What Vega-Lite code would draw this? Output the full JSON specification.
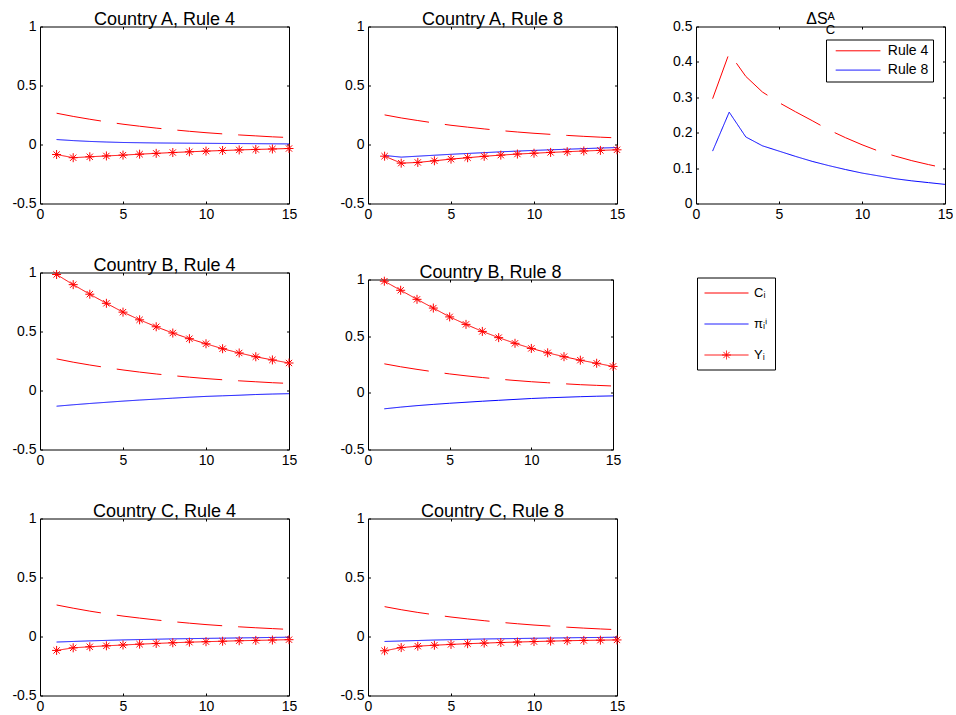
{
  "$schema": "https://vega.github.io/schema/vega-lite/v6.json",
  "background": "white",
  "padding": {"left": 11, "top": 10.5, "right": 0, "bottom": 0},
  "config": {
    "font": "Liberation Sans",
    "view": {"stroke": null},
    "axis": {"grid": false, "domainColor": "#000", "domainWidth": 1, "tickColor": "#000", "tickWidth": 1, "tickSize": -2.5, "labelColor": "#000", "labelFont": "Liberation Sans", "labelFontSize": 14, "labelFlush": false, "labelOverlap": false},
    "axisTop": {"labels": false},
    "axisRight": {"labels": false},
    "axisBottom": {"labelPadding": 6},
    "axisLeft": {"labelPadding": 6.5},
    "title": {"font": "Liberation Sans", "fontSize": 18, "fontWeight": "normal", "color": "#000", "offset": -9.5, "subtitleFont": "Liberation Sans", "subtitleFontSize": 13, "subtitleColor": "#000"}
  },
  "datasets": {
    "ctry": [
      {"p":"A4","t":1,"C":0.265,"P":0.042,"Y":-0.085},{"p":"A4","t":2,"C":0.238,"P":0.033,"Y":-0.112},{"p":"A4","t":3,"C":0.214,"P":0.026,"Y":-0.104},{"p":"A4","t":4,"C":0.192,"P":0.021,"Y":-0.097},{"p":"A4","t":5,"C":0.172,"P":0.017,"Y":-0.090},{"p":"A4","t":6,"C":0.155,"P":0.015,"Y":-0.082},{"p":"A4","t":7,"C":0.139,"P":0.013,"Y":-0.075},{"p":"A4","t":8,"C":0.125,"P":0.012,"Y":-0.068},{"p":"A4","t":9,"C":0.112,"P":0.011,"Y":-0.062},{"p":"A4","t":10,"C":0.100,"P":0.010,"Y":-0.056},{"p":"A4","t":11,"C":0.090,"P":0.009,"Y":-0.051},{"p":"A4","t":12,"C":0.081,"P":0.008,"Y":-0.046},{"p":"A4","t":13,"C":0.073,"P":0.007,"Y":-0.042},{"p":"A4","t":14,"C":0.065,"P":0.006,"Y":-0.038},{"p":"A4","t":15,"C":0.059,"P":0.005,"Y":-0.034},
      {"p":"A8","t":1,"C":0.251,"P":-0.093,"Y":-0.099},{"p":"A8","t":2,"C":0.225,"P":-0.107,"Y":-0.158},{"p":"A8","t":3,"C":0.203,"P":-0.099,"Y":-0.152},{"p":"A8","t":4,"C":0.182,"P":-0.091,"Y":-0.138},{"p":"A8","t":5,"C":0.163,"P":-0.083,"Y":-0.124},{"p":"A8","t":6,"C":0.147,"P":-0.076,"Y":-0.112},{"p":"A8","t":7,"C":0.132,"P":-0.069,"Y":-0.100},{"p":"A8","t":8,"C":0.118,"P":-0.062,"Y":-0.090},{"p":"A8","t":9,"C":0.106,"P":-0.056,"Y":-0.081},{"p":"A8","t":10,"C":0.095,"P":-0.050,"Y":-0.074},{"p":"A8","t":11,"C":0.086,"P":-0.045,"Y":-0.067},{"p":"A8","t":12,"C":0.077,"P":-0.040,"Y":-0.061},{"p":"A8","t":13,"C":0.069,"P":-0.035,"Y":-0.055},{"p":"A8","t":14,"C":0.062,"P":-0.030,"Y":-0.050},{"p":"A8","t":15,"C":0.056,"P":-0.026,"Y":-0.045},
      {"p":"B4","t":1,"C":0.268,"P":-0.133,"Y":0.983},{"p":"B4","t":2,"C":0.240,"P":-0.121,"Y":0.897},{"p":"B4","t":3,"C":0.216,"P":-0.110,"Y":0.816},{"p":"B4","t":4,"C":0.194,"P":-0.100,"Y":0.739},{"p":"B4","t":5,"C":0.174,"P":-0.090,"Y":0.664},{"p":"B4","t":6,"C":0.156,"P":-0.081,"Y":0.599},{"p":"B4","t":7,"C":0.140,"P":-0.073,"Y":0.540},{"p":"B4","t":8,"C":0.126,"P":-0.065,"Y":0.487},{"p":"B4","t":9,"C":0.113,"P":-0.057,"Y":0.439},{"p":"B4","t":10,"C":0.101,"P":-0.050,"Y":0.396},{"p":"B4","t":11,"C":0.091,"P":-0.045,"Y":0.354},{"p":"B4","t":12,"C":0.082,"P":-0.040,"Y":0.318},{"p":"B4","t":13,"C":0.074,"P":-0.034,"Y":0.286},{"p":"B4","t":14,"C":0.066,"P":-0.030,"Y":0.259},{"p":"B4","t":15,"C":0.060,"P":-0.027,"Y":0.233},
      {"p":"B8","t":1,"C":0.256,"P":-0.141,"Y":0.985},{"p":"B8","t":2,"C":0.230,"P":-0.126,"Y":0.905},{"p":"B8","t":3,"C":0.207,"P":-0.113,"Y":0.825},{"p":"B8","t":4,"C":0.186,"P":-0.102,"Y":0.748},{"p":"B8","t":5,"C":0.167,"P":-0.092,"Y":0.670},{"p":"B8","t":6,"C":0.150,"P":-0.083,"Y":0.604},{"p":"B8","t":7,"C":0.135,"P":-0.074,"Y":0.542},{"p":"B8","t":8,"C":0.121,"P":-0.066,"Y":0.487},{"p":"B8","t":9,"C":0.109,"P":-0.058,"Y":0.437},{"p":"B8","t":10,"C":0.098,"P":-0.050,"Y":0.392},{"p":"B8","t":11,"C":0.089,"P":-0.044,"Y":0.353},{"p":"B8","t":12,"C":0.080,"P":-0.039,"Y":0.319},{"p":"B8","t":13,"C":0.072,"P":-0.034,"Y":0.288},{"p":"B8","t":14,"C":0.066,"P":-0.030,"Y":0.261},{"p":"B8","t":15,"C":0.060,"P":-0.027,"Y":0.233},
      {"p":"C4","t":1,"C":0.267,"P":-0.047,"Y":-0.118},{"p":"C4","t":2,"C":0.240,"P":-0.042,"Y":-0.096},{"p":"C4","t":3,"C":0.215,"P":-0.037,"Y":-0.087},{"p":"C4","t":4,"C":0.193,"P":-0.033,"Y":-0.079},{"p":"C4","t":5,"C":0.173,"P":-0.029,"Y":-0.072},{"p":"C4","t":6,"C":0.156,"P":-0.026,"Y":-0.065},{"p":"C4","t":7,"C":0.140,"P":-0.023,"Y":-0.059},{"p":"C4","t":8,"C":0.126,"P":-0.020,"Y":-0.053},{"p":"C4","t":9,"C":0.113,"P":-0.018,"Y":-0.048},{"p":"C4","t":10,"C":0.101,"P":-0.016,"Y":-0.044},{"p":"C4","t":11,"C":0.091,"P":-0.014,"Y":-0.040},{"p":"C4","t":12,"C":0.082,"P":-0.012,"Y":-0.036},{"p":"C4","t":13,"C":0.074,"P":-0.010,"Y":-0.033},{"p":"C4","t":14,"C":0.067,"P":-0.008,"Y":-0.030},{"p":"C4","t":15,"C":0.060,"P":-0.006,"Y":-0.027},
      {"p":"C8","t":1,"C":0.253,"P":-0.042,"Y":-0.121},{"p":"C8","t":2,"C":0.227,"P":-0.038,"Y":-0.094},{"p":"C8","t":3,"C":0.204,"P":-0.034,"Y":-0.082},{"p":"C8","t":4,"C":0.184,"P":-0.030,"Y":-0.074},{"p":"C8","t":5,"C":0.165,"P":-0.027,"Y":-0.067},{"p":"C8","t":6,"C":0.149,"P":-0.024,"Y":-0.061},{"p":"C8","t":7,"C":0.134,"P":-0.021,"Y":-0.056},{"p":"C8","t":8,"C":0.120,"P":-0.019,"Y":-0.051},{"p":"C8","t":9,"C":0.108,"P":-0.017,"Y":-0.047},{"p":"C8","t":10,"C":0.097,"P":-0.015,"Y":-0.043},{"p":"C8","t":11,"C":0.088,"P":-0.013,"Y":-0.039},{"p":"C8","t":12,"C":0.079,"P":-0.011,"Y":-0.036},{"p":"C8","t":13,"C":0.071,"P":-0.009,"Y":-0.033},{"p":"C8","t":14,"C":0.064,"P":-0.008,"Y":-0.031},{"p":"C8","t":15,"C":0.058,"P":-0.006,"Y":-0.029}
    ],
    "ds": [
      {"t":1,"Rule 4":0.296,"Rule 8":0.148},{"t":2,"Rule 4":0.425,"Rule 8":0.258},{"t":3,"Rule 4":0.359,"Rule 8":0.188},{"t":4,"Rule 4":0.315,"Rule 8":0.163},{"t":5,"Rule 4":0.285,"Rule 8":0.148},{"t":6,"Rule 4":0.259,"Rule 8":0.133},{"t":7,"Rule 4":0.234,"Rule 8":0.119},{"t":8,"Rule 4":0.208,"Rule 8":0.107},{"t":9,"Rule 4":0.186,"Rule 8":0.096},{"t":10,"Rule 4":0.166,"Rule 8":0.086},{"t":11,"Rule 4":0.148,"Rule 8":0.078},{"t":12,"Rule 4":0.134,"Rule 8":0.070},{"t":13,"Rule 4":0.121,"Rule 8":0.064},{"t":14,"Rule 4":0.110,"Rule 8":0.059},{"t":15,"Rule 4":0.100,"Rule 8":0.054}
    ]
  },
  "columns": 3,
  "bounds": "flush",
  "spacing": {"row": 69, "column": 79},
  "resolve": {"scale": {"color": "independent", "strokeDash": "independent"}, "legend": {"color": "independent", "strokeDash": "independent"}},
  "concat": [
    {
      "title": {"text": "Country A, Rule 4"},
      "width": 249, "height": 177,
      "data": {"name": "ctry"},
      "transform": [{"filter": "datum.p === 'A4'"}, {"fold": ["C", "P", "Y"], "as": ["s", "v"]}],
      "layer": [
        {"mark": {"type": "line", "strokeWidth": 1},
         "encoding": {
           "x": {"field": "t", "type": "quantitative", "title": null, "scale": {"domain": [0, 15], "nice": false}, "axis": {"values": [0, 5, 10, 15]}},
           "y": {"field": "v", "type": "quantitative", "title": null, "scale": {"domain": [-0.5, 1], "nice": false}, "axis": {"values": [-0.5, 0, 0.5, 1], "labelExpr": "'' + datum.value"}},
           "color": {"field": "s", "type": "nominal", "scale": {"domain": ["C", "P", "Y"], "range": ["#ff0000", "#0000ff", "#ff0000"]}, "legend": null},
           "strokeDash": {"field": "s", "type": "nominal", "scale": {"domain": ["C", "P", "Y"], "range": [[45, 16], [1, 0], [1, 0]]}, "legend": null}
         }},
        {"transform": [{"filter": "datum.s === 'Y'"}],
         "mark": {"type": "point", "shape": "M-1,0H1M0,-1V1M-0.7,-0.7L0.7,0.7M-0.7,0.7L0.7,-0.7", "size": 81, "filled": false, "strokeWidth": 1, "color": "#ff0000", "opacity": 1},
         "encoding": {
           "x": {"field": "t", "type": "quantitative", "title": null, "axis": {"orient": "top", "values": [0, 5, 10, 15]}},
           "y": {"field": "v", "type": "quantitative", "title": null, "axis": {"orient": "right", "values": [-0.5, 0, 0.5, 1]}}
         }}
      ],
      "resolve": {"axis": {"x": "independent", "y": "independent"}}
    },
    {
      "title": {"text": "Country A, Rule 8"},
      "width": 249, "height": 177,
      "data": {"name": "ctry"},
      "transform": [{"filter": "datum.p === 'A8'"}, {"fold": ["C", "P", "Y"], "as": ["s", "v"]}],
      "layer": [
        {"mark": {"type": "line", "strokeWidth": 1},
         "encoding": {
           "x": {"field": "t", "type": "quantitative", "title": null, "scale": {"domain": [0, 15], "nice": false}, "axis": {"values": [0, 5, 10, 15]}},
           "y": {"field": "v", "type": "quantitative", "title": null, "scale": {"domain": [-0.5, 1], "nice": false}, "axis": {"values": [-0.5, 0, 0.5, 1], "labelExpr": "'' + datum.value"}},
           "color": {"field": "s", "type": "nominal", "scale": {"domain": ["C", "P", "Y"], "range": ["#ff0000", "#0000ff", "#ff0000"]}, "legend": null},
           "strokeDash": {"field": "s", "type": "nominal", "scale": {"domain": ["C", "P", "Y"], "range": [[45, 16], [1, 0], [1, 0]]}, "legend": null}
         }},
        {"transform": [{"filter": "datum.s === 'Y'"}],
         "mark": {"type": "point", "shape": "M-1,0H1M0,-1V1M-0.7,-0.7L0.7,0.7M-0.7,0.7L0.7,-0.7", "size": 81, "filled": false, "strokeWidth": 1, "color": "#ff0000", "opacity": 1},
         "encoding": {
           "x": {"field": "t", "type": "quantitative", "title": null, "axis": {"orient": "top", "values": [0, 5, 10, 15]}},
           "y": {"field": "v", "type": "quantitative", "title": null, "axis": {"orient": "right", "values": [-0.5, 0, 0.5, 1]}}
         }}
      ],
      "resolve": {"axis": {"x": "independent", "y": "independent"}}
    },
    {
      "title": {"text": "ΔSᴬ", "subtitle": "\u2800\u2800C", "fontSize": 16, "subtitlePadding": -2.7, "offset": -17.7},
      "width": 249, "height": 177,
      "data": {"name": "ds"},
      "transform": [{"fold": ["Rule 4", "Rule 8"], "as": ["rule", "v"]}],
      "layer": [
        {"mark": {"type": "line", "strokeWidth": 1},
         "encoding": {
           "x": {"field": "t", "type": "quantitative", "title": null, "scale": {"domain": [0, 15], "nice": false}, "axis": {"values": [0, 5, 10, 15]}},
           "y": {"field": "v", "type": "quantitative", "title": null, "scale": {"domain": [0, 0.5], "nice": false}, "axis": {"values": [0, 0.1, 0.2, 0.3, 0.4, 0.5], "labelExpr": "'' + datum.value"}},
           "color": {"field": "rule", "type": "nominal", "scale": {"domain": ["Rule 4", "Rule 8"], "range": ["#ff0000", "#0000ff"]},
             "legend": {"orient": "top-right", "offset": 12.5, "title": null, "strokeColor": "#000", "fillColor": "#fff", "padding": 4.3, "symbolType": "M-0.284,0H7.716", "symbolSize": 125, "symbolStrokeWidth": 1, "labelOffset": 43.5, "labelFont": "Liberation Sans", "labelFontSize": 14, "labelColor": "#000", "rowPadding": 5.3}},
           "strokeDash": {"field": "rule", "type": "nominal", "scale": {"domain": ["Rule 4", "Rule 8"], "range": [[45, 16], [1, 0]]}, "legend": null}
         }},
        {"mark": {"type": "point", "opacity": 0},
         "encoding": {
           "x": {"field": "t", "type": "quantitative", "title": null, "axis": {"orient": "top", "values": [0, 5, 10, 15]}},
           "y": {"field": "v", "type": "quantitative", "title": null, "axis": {"orient": "right", "values": [0, 0.1, 0.2, 0.3, 0.4, 0.5]}}
         }}
      ],
      "resolve": {"axis": {"x": "independent", "y": "independent"}}
    },
    {
      "title": {"text": "Country B, Rule 4"},
      "width": 249, "height": 177,
      "data": {"name": "ctry"},
      "transform": [{"filter": "datum.p === 'B4'"}, {"fold": ["C", "P", "Y"], "as": ["s", "v"]}],
      "layer": [
        {"mark": {"type": "line", "strokeWidth": 1},
         "encoding": {
           "x": {"field": "t", "type": "quantitative", "title": null, "scale": {"domain": [0, 15], "nice": false}, "axis": {"values": [0, 5, 10, 15]}},
           "y": {"field": "v", "type": "quantitative", "title": null, "scale": {"domain": [-0.5, 1], "nice": false}, "axis": {"values": [-0.5, 0, 0.5, 1], "labelExpr": "'' + datum.value"}},
           "color": {"field": "s", "type": "nominal", "scale": {"domain": ["C", "P", "Y"], "range": ["#ff0000", "#0000ff", "#ff0000"]}, "legend": null},
           "strokeDash": {"field": "s", "type": "nominal", "scale": {"domain": ["C", "P", "Y"], "range": [[45, 16], [1, 0], [1, 0]]}, "legend": null}
         }},
        {"transform": [{"filter": "datum.s === 'Y'"}],
         "mark": {"type": "point", "shape": "M-1,0H1M0,-1V1M-0.7,-0.7L0.7,0.7M-0.7,0.7L0.7,-0.7", "size": 81, "filled": false, "strokeWidth": 1, "color": "#ff0000", "opacity": 1},
         "encoding": {
           "x": {"field": "t", "type": "quantitative", "title": null, "axis": {"orient": "top", "values": [0, 5, 10, 15]}},
           "y": {"field": "v", "type": "quantitative", "title": null, "axis": {"orient": "right", "values": [-0.5, 0, 0.5, 1]}}
         }}
      ],
      "resolve": {"axis": {"x": "independent", "y": "independent"}}
    },
    {
      "title": {"text": "Country B, Rule 8"},
      "width": 245, "height": 177,
      "data": {"name": "ctry"},
      "transform": [{"filter": "datum.p === 'B8'"}, {"fold": ["C", "P", "Y"], "as": ["s", "v"]}],
      "layer": [
        {"mark": {"type": "line", "strokeWidth": 1},
         "encoding": {
           "x": {"field": "t", "type": "quantitative", "title": null, "scale": {"domain": [0, 15], "nice": false}, "axis": {"values": [0, 5, 10, 15]}},
           "y": {"field": "v", "type": "quantitative", "title": null, "scale": {"domain": [-0.5, 1], "nice": false, "range": [177, 7]}, "axis": {"values": [-0.5, 0, 0.5, 1], "labelExpr": "'' + datum.value"}},
           "color": {"field": "s", "type": "nominal", "scale": {"domain": ["C", "P", "Y"], "range": ["#ff0000", "#0000ff", "#ff0000"]},
             "legend": {"orient": "none", "legendX": 329, "legendY": 5, "title": null, "strokeColor": "#000", "fillColor": "#fff", "padding": 7, "symbolType": "M-1,0H4.5", "symbolSize": 256, "symbolStrokeWidth": 1, "labelOffset": 33, "labelFont": "Liberation Sans", "labelFontSize": 13, "labelColor": "#000", "rowPadding": 15,
               "labelExpr": "datum.value === 'C' ? 'Cᵢ' : datum.value === 'P' ? 'πᵢⁱ' : 'Yᵢ'",
               "encode": {"symbols": {"update": {
                 "shape": {"signal": "datum.value === 'Y' ? 'M-1,0H4.5M1.2,0H2.3M1.75,-0.55V0.55M1.36,-0.39L2.14,0.39M1.36,0.39L2.14,-0.39' : 'M-1,0H4.5'"},
                 "stroke": {"signal": "datum.value === 'P' ? '#0000ff' : '#ff0000'"},
                 "fill": {"value": "transparent"},
                 "strokeWidth": {"value": 1},
                 "opacity": {"value": 1}}}}}},
           "strokeDash": {"field": "s", "type": "nominal", "scale": {"domain": ["C", "P", "Y"], "range": [[45, 16], [1, 0], [1, 0]]}, "legend": null}
         }},
        {"transform": [{"filter": "datum.s === 'Y'"}],
         "mark": {"type": "point", "shape": "M-1,0H1M0,-1V1M-0.7,-0.7L0.7,0.7M-0.7,0.7L0.7,-0.7", "size": 81, "filled": false, "strokeWidth": 1, "color": "#ff0000", "opacity": 1},
         "encoding": {
           "x": {"field": "t", "type": "quantitative", "title": null, "axis": {"orient": "top", "offset": -7, "values": [0, 5, 10, 15]}},
           "y": {"field": "v", "type": "quantitative", "title": null, "axis": {"orient": "right", "values": [-0.5, 0, 0.5, 1]}}
         }}
      ],
      "resolve": {"axis": {"x": "independent", "y": "independent"}}
    },
    {
      "width": 1, "height": 1,
      "data": {"values": []},
      "mark": "point"
    },
    {
      "title": {"text": "Country C, Rule 4"},
      "width": 249, "height": 177,
      "data": {"name": "ctry"},
      "transform": [{"filter": "datum.p === 'C4'"}, {"fold": ["C", "P", "Y"], "as": ["s", "v"]}],
      "layer": [
        {"mark": {"type": "line", "strokeWidth": 1},
         "encoding": {
           "x": {"field": "t", "type": "quantitative", "title": null, "scale": {"domain": [0, 15], "nice": false}, "axis": {"values": [0, 5, 10, 15]}},
           "y": {"field": "v", "type": "quantitative", "title": null, "scale": {"domain": [-0.5, 1], "nice": false}, "axis": {"values": [-0.5, 0, 0.5, 1], "labelExpr": "'' + datum.value"}},
           "color": {"field": "s", "type": "nominal", "scale": {"domain": ["C", "P", "Y"], "range": ["#ff0000", "#0000ff", "#ff0000"]}, "legend": null},
           "strokeDash": {"field": "s", "type": "nominal", "scale": {"domain": ["C", "P", "Y"], "range": [[45, 16], [1, 0], [1, 0]]}, "legend": null}
         }},
        {"transform": [{"filter": "datum.s === 'Y'"}],
         "mark": {"type": "point", "shape": "M-1,0H1M0,-1V1M-0.7,-0.7L0.7,0.7M-0.7,0.7L0.7,-0.7", "size": 81, "filled": false, "strokeWidth": 1, "color": "#ff0000", "opacity": 1},
         "encoding": {
           "x": {"field": "t", "type": "quantitative", "title": null, "axis": {"orient": "top", "values": [0, 5, 10, 15]}},
           "y": {"field": "v", "type": "quantitative", "title": null, "axis": {"orient": "right", "values": [-0.5, 0, 0.5, 1]}}
         }}
      ],
      "resolve": {"axis": {"x": "independent", "y": "independent"}}
    },
    {
      "title": {"text": "Country C, Rule 8"},
      "width": 249, "height": 177,
      "data": {"name": "ctry"},
      "transform": [{"filter": "datum.p === 'C8'"}, {"fold": ["C", "P", "Y"], "as": ["s", "v"]}],
      "layer": [
        {"mark": {"type": "line", "strokeWidth": 1},
         "encoding": {
           "x": {"field": "t", "type": "quantitative", "title": null, "scale": {"domain": [0, 15], "nice": false}, "axis": {"values": [0, 5, 10, 15]}},
           "y": {"field": "v", "type": "quantitative", "title": null, "scale": {"domain": [-0.5, 1], "nice": false}, "axis": {"values": [-0.5, 0, 0.5, 1], "labelExpr": "'' + datum.value"}},
           "color": {"field": "s", "type": "nominal", "scale": {"domain": ["C", "P", "Y"], "range": ["#ff0000", "#0000ff", "#ff0000"]}, "legend": null},
           "strokeDash": {"field": "s", "type": "nominal", "scale": {"domain": ["C", "P", "Y"], "range": [[45, 16], [1, 0], [1, 0]]}, "legend": null}
         }},
        {"transform": [{"filter": "datum.s === 'Y'"}],
         "mark": {"type": "point", "shape": "M-1,0H1M0,-1V1M-0.7,-0.7L0.7,0.7M-0.7,0.7L0.7,-0.7", "size": 81, "filled": false, "strokeWidth": 1, "color": "#ff0000", "opacity": 1},
         "encoding": {
           "x": {"field": "t", "type": "quantitative", "title": null, "axis": {"orient": "top", "values": [0, 5, 10, 15]}},
           "y": {"field": "v", "type": "quantitative", "title": null, "axis": {"orient": "right", "values": [-0.5, 0, 0.5, 1]}}
         }}
      ],
      "resolve": {"axis": {"x": "independent", "y": "independent"}}
    }
  ]
}
